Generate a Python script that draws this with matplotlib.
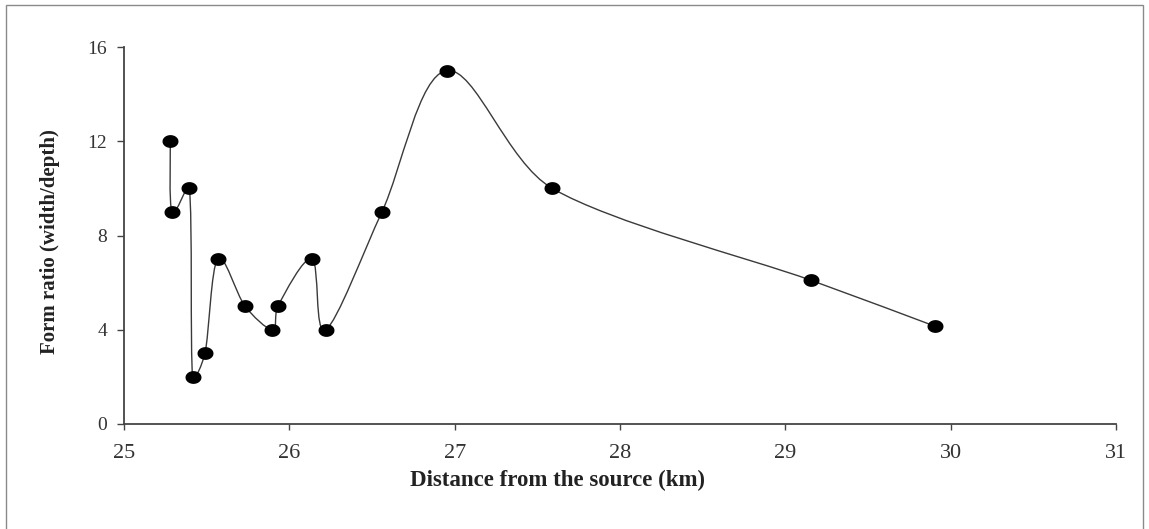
import numpy as np
import matplotlib
matplotlib.use("Agg")
import matplotlib.pyplot as plt
from matplotlib.path import Path
from matplotlib.patches import PathPatch, Rectangle

distance_km = [25.28, 25.29, 25.395, 25.415, 25.49, 25.567, 25.732, 25.897,
               25.93, 26.137, 26.22, 26.56, 26.953, 27.59, 29.155, 29.905]
form_ratio = [12, 9, 10, 2, 3, 7, 5, 4, 5, 7, 4, 9, 15, 10, 6.1, 4.15]
x_ticks = [25, 26, 27, 28, 29, 30, 31]
y_ticks = [0, 4, 8, 12, 16]
x_label = "Distance from the source (km)"
y_label = "Form ratio (width/depth)"

plt.rcParams['font.family'] = ['Liberation Serif', 'DejaVu Serif']

fig = plt.figure(figsize=(11.49, 5.29), dpi=100)
ax = fig.add_axes([124/1149, 105/529, 992/1149, 377/529])
ax.set_xlim(25, 31)
ax.set_ylim(0, 16)

# smoothed line (Excel-like Bezier, handles clamped in display space)
D = ax.transData.transform(np.column_stack([distance_km, form_ratio]).astype(float))
n = len(D)

def clamp(v, limit):
    L = np.hypot(*v)
    return v * (limit / L) if L > limit and L > 0 else v

verts = [D[0]]
codes = [Path.MOVETO]
for i in range(n - 1):
    p_prev = D[i - 1] if i > 0 else D[i]
    p_next2 = D[i + 2] if i + 2 < n else D[i + 1]
    seg = np.hypot(*(D[i + 1] - D[i]))
    h1 = clamp((D[i + 1] - p_prev) / 6.0, seg / 3.0)
    h2 = clamp((p_next2 - D[i]) / 6.0, seg / 3.0)
    verts += [D[i] + h1, D[i + 1] - h2, D[i + 1]]
    codes += [Path.CURVE4] * 3
verts_data = ax.transData.inverted().transform(np.array(verts))
ax.add_patch(PathPatch(Path(verts_data, codes), facecolor='none',
                       edgecolor='#3a3a3a', lw=1.0, zorder=2))

t = np.linspace(0, 2 * np.pi, 60)
ell = Path(np.column_stack([np.cos(t), 0.78 * np.sin(t)]), closed=True)
ax.plot(distance_km, form_ratio, linestyle='none', marker=ell,
        markersize=10.5, color='black', zorder=3)

ax.set_xticks(x_ticks)
ax.set_yticks(y_ticks)
ax.set_xticklabels([str(v) for v in x_ticks], fontsize=16, color='#333333')
ax.set_yticklabels([str(v) for v in y_ticks], fontsize=14, color='#333333')
ax.tick_params(axis='x', direction='out', length=4.5, width=1, color='#444444', pad=10)
ax.tick_params(axis='y', direction='out', length=5, width=1, color='#444444', pad=7)

for s in ['top', 'right']:
    ax.spines[s].set_visible(False)
for s in ['left', 'bottom']:
    ax.spines[s].set_color('#444444')
    ax.spines[s].set_linewidth(1.3)

ax.set_xlabel(x_label, fontsize=16.5, fontweight='bold', color='#222222')
ax.xaxis.set_label_coords(0.4375, -0.122)
ax.xaxis.label.set_va('top')
ax.set_ylabel(y_label, fontsize=15, fontweight='bold', color='#222222', va='center')
ax.yaxis.set_label_coords(-0.0746, 0.485)

fig.add_artist(Rectangle((6/1149, -0.05), (1143 - 6)/1149, (529 - 5)/529 + 0.05,
                         transform=fig.transFigure, fill=False,
                         edgecolor='#8a8a8a', lw=1.0))

fig.savefig('out.png', dpi=100)
